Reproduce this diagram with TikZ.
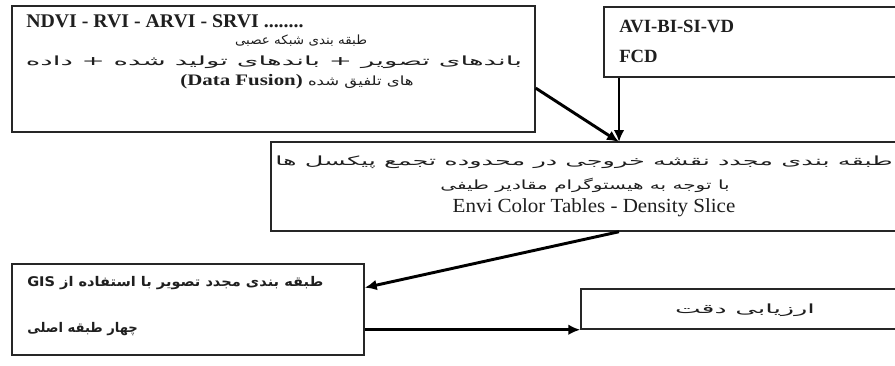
\documentclass[tikz,border=0pt]{standalone}
\usepackage{fontspec}
\usepackage{graphicx}
\setmainfont{Liberation Serif}
\newfontfamily\fa[Script=Arabic]{DejaVu Sans}
\TeXXeTstate=1
\usetikzlibrary{fit,calc,arrows.meta}
\tikzset{
  box/.style={draw=black!85, line width=1.1pt, inner sep=0pt, fill=white},
  txt/.style={inner sep=0pt, text=black!88},
  fatxt/.style={txt, font=\fa\fontsize{9.5pt}{11pt}\selectfont},
  arr/.style={line width=2.2pt, -{Latex[length=9pt,width=8pt]}},
}
\newcommand{\fitw}[2]{\resizebox{#1}{\height}{#2}}
\begin{document}
\begin{tikzpicture}[x=0.75pt,y=-0.75pt]
\useasboundingbox (0,0) rectangle (895,365);
\fill[white] (0,0) rectangle (895,365);
\clip (0,0) rectangle (895,365);
% boxes
\node[box, fit={(12,6) (535,132)}] (b1) {};
\node[box, fit={(604,7) (1000,77)}] (b2) {};
\node[box, fit={(271,142) (1000,231)}] (b3) {};
\node[box, fit={(12,264) (364,355)}] (b4) {};
\node[box, fit={(581,289) (1000,329)}] (b5) {};
\coordinate (meet) at (619,142);
% box 1 texts
\node[txt, anchor=west, font=\fontsize{14.5pt}{16pt}\selectfont\bfseries] (t11) at (26,21) {\fitw{208pt}{NDVI - RVI - ARVI - SRVI ........}};
\node[fatxt] (t12) at (301,41) {\fitw{99pt}{\beginR طبقه بندی شبکه عصبی\endR}};
\node[fatxt] (t13) at (274,62) {\fitw{372pt}{\beginR باندهای تصویر + باندهای تولید شده + داده\endR}};
\node[fatxt] (t14) at (297,82) {\fitw{175pt}{\beginR های تلفیق شده {\rmfamily\bfseries\fontsize{12pt}{14pt}\selectfont\beginL(Data Fusion)\endL}\endR}};
% box 2 texts
\node[txt, anchor=west, font=\fontsize{14pt}{16pt}\selectfont\bfseries] (t21) at (619,26) {AVI-BI-SI-VD};
\node[txt, anchor=west, font=\fontsize{14pt}{16pt}\selectfont\bfseries] (t22) at (619,56) {FCD};
% box 3 texts
\node[fatxt] (t31) at (584,162) {\fitw{463pt}{\beginR طبقه بندی مجدد نقشه خروجی در محدوده تجمع پیکسل ها\endR}};
\node[fatxt] (t32) at (585,185) {\fitw{217pt}{\beginR با توجه به هیستوگرام مقادیر طیفی\endR}};
\node[txt, font=\fontsize{15pt}{17pt}\selectfont] (t33) at (594,208) {\fitw{212pt}{Envi Color Tables - Density Slice}};
% box 4 texts
\node[txt, anchor=west, font=\fa\bfseries\fontsize{10pt}{12pt}\selectfont] (t41) at (27,283) {\fitw{222pt}{\beginR طبقه بندی مجدد تصویر با استفاده از \beginL GIS\endL\endR}};
\node[txt, anchor=west, font=\fa\bfseries\fontsize{10pt}{12pt}\selectfont] (t42) at (27,329) {\fitw{83pt}{\beginR چهار طبقه اصلی\endR}};
% box 5 text
\node[fatxt] (t51) at (745,310) {\fitw{105pt}{\beginR ارزیابی دقت\endR}};
% arrows
\draw[arr] ($(b1.north east)!0.65!(b1.south east)$) -- (meet);
\draw[arr] (b2.south -| meet) -- (meet);
\draw[arr] (b3.south -| meet) -- ($(b4.north east)!0.264!(b4.south east)$);
\draw[arr] (b5.south west -| b4.east) -- (b5.south west);
\end{tikzpicture}
\end{document}
